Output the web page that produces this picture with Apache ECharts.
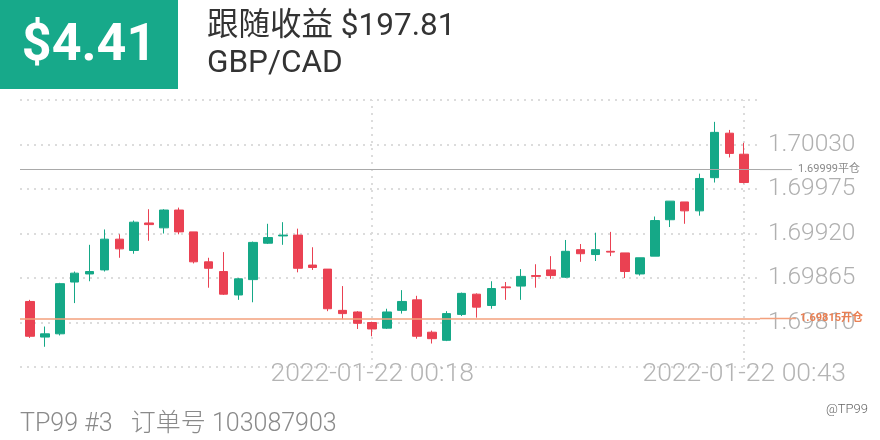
<!DOCTYPE html>
<html>
<head>
<meta charset="utf-8">
<style>html,body{margin:0;padding:0;background:#fff;}#c{width:880px;height:440px;}</style>
<script src="https://cdn.jsdelivr.net/npm/echarts@6/dist/echarts.min.js"></script>
</head>
<body>
<div id="c"></div>
<script>
var categories = ['2022-01-21 23:55','2022-01-21 23:56','2022-01-21 23:57','2022-01-21 23:58','2022-01-21 23:59',
  '2022-01-22 00:00','2022-01-22 00:01','2022-01-22 00:02','2022-01-22 00:03','2022-01-22 00:04','2022-01-22 00:05',
  '2022-01-22 00:06','2022-01-22 00:07','2022-01-22 00:08','2022-01-22 00:09','2022-01-22 00:10','2022-01-22 00:11',
  '2022-01-22 00:12','2022-01-22 00:13','2022-01-22 00:14','2022-01-22 00:15','2022-01-22 00:16','2022-01-22 00:17',
  '2022-01-22 00:18','2022-01-22 00:19','2022-01-22 00:20','2022-01-22 00:21','2022-01-22 00:22','2022-01-22 00:23',
  '2022-01-22 00:24','2022-01-22 00:25','2022-01-22 00:26','2022-01-22 00:27','2022-01-22 00:28','2022-01-22 00:29',
  '2022-01-22 00:30','2022-01-22 00:31','2022-01-22 00:32','2022-01-22 00:33','2022-01-22 00:34','2022-01-22 00:35',
  '2022-01-22 00:36','2022-01-22 00:37','2022-01-22 00:38','2022-01-22 00:39','2022-01-22 00:40','2022-01-22 00:41',
  '2022-01-22 00:42','2022-01-22 00:43'];
var opens = [1.69836,1.69792,1.69796,1.69860,1.69870,1.69875,1.69913,1.69899,1.69933,1.69927,1.69949,1.69922,1.69885,
  1.69873,1.69844,1.69863,1.69908,1.69917,1.69918,1.69881,1.69876,1.69825,1.69823,1.69810,1.69803,1.69825,1.69838,
  1.69798,1.69788,1.69820,1.69845,1.69831,1.69854,1.69855,1.69868,1.69875,1.69866,1.69900,1.69894,1.69898,1.69896,
  1.69870,1.69892,1.69937,1.69959,1.69948,1.69989,1.70044,1.70018];
var closes = [1.69793,1.69796,1.69858,1.69871,1.69873,1.69913,1.69901,1.69934,1.69931,1.69949,1.69922,1.69885,1.69877,
  1.69845,1.69864,1.69909,1.69915,1.69918,1.69877,1.69878,1.69827,1.69821,1.69809,1.69802,1.69823,1.69836,1.69793,
  1.69790,1.69821,1.69846,1.69829,1.69852,1.69853,1.69867,1.69867,1.69868,1.69898,1.69895,1.69900,1.69897,1.69873,
  1.69890,1.69936,1.69960,1.69948,1.69988,1.70045,1.70019,1.69983];
var lows = [1.69791,1.69780,1.69794,1.69834,1.69861,1.69873,1.69890,1.69895,1.69911,1.69920,1.69919,1.69883,1.69853,
  1.69844,1.69838,1.69835,1.69907,1.69906,1.69872,1.69875,1.69824,1.69814,1.69802,1.69793,1.69802,1.69821,1.69790,
  1.69784,1.69787,1.69818,1.69816,1.69827,1.69838,1.69838,1.69853,1.69864,1.69865,1.69885,1.69886,1.69892,1.69865,
  1.69868,1.69892,1.69928,1.69932,1.69942,1.69983,1.70014,1.69982];
var highs = [1.69838,1.69805,1.69859,1.69873,1.69906,1.69925,1.69919,1.69936,1.69950,1.69950,1.69952,1.69922,1.69890,
  1.69897,1.69865,1.69910,1.69932,1.69934,1.69926,1.69903,1.69876,1.69855,1.69824,1.69811,1.69827,1.69850,1.69843,
  1.69800,1.69824,1.69847,1.69846,1.69861,1.69860,1.69876,1.69882,1.69892,1.69912,1.69907,1.69921,1.69922,1.69896,
  1.69890,1.69941,1.69960,1.69959,1.69994,1.70058,1.70048,1.70032];
var labelIndices = [23, 48];
var yTicks = {min: 1.69755, max: 1.70085, step: 0.00055};
var openPrice = 1.69815, closePrice = 1.69999;

var FONT = 'Roboto, "Noto Sans CJK SC", sans-serif';
var UP = '#15a887', DOWN = '#ea4152';

var candleData = categories.map(function (c, i) {
  return [i, opens[i], closes[i], lows[i], highs[i]];
});

var chart = echarts.init(document.getElementById('c'), null, {renderer: 'canvas'});
chart.setOption({
  backgroundColor: '#fff',
  animation: false,
  grid: {left: 20, right: 120, top: 100, bottom: 73, containLabel: false, outerBoundsMode: 'none'},
  xAxis: {
    type: 'value',
    min: -0.672, max: 49.06,
    axisLine: {show: false}, axisTick: {show: false}, splitLine: {show: false},
    axisLabel: {
      customValues: labelIndices,
      formatter: function (v) { return categories[Math.round(v)] || ''; },
      color: '#b4b4b4', fontSize: 26.5, fontWeight: 300, fontFamily: FONT, margin: -6
    }
  },
  yAxis: {
    type: 'value', position: 'right', scale: true,
    min: yTicks.min, max: yTicks.max, interval: yTicks.step,
    axisLine: {show: false}, axisTick: {show: false},
    splitLine: {show: true, lineStyle: {color: '#dcdcdc', type: [2, 5], width: 2}},
    axisLabel: {
      showMinLabel: false, showMaxLabel: false,
      formatter: function (v) { return v.toFixed(5); },
      color: '#b0b0b0', fontSize: 24.5, fontWeight: 300, fontFamily: FONT, margin: 8,
      padding: [0, 0, 6, 0]
    }
  },
  graphic: [
    {type: 'rect', left: 0, top: 0, shape: {width: 178, height: 89}, style: {fill: '#17a98a'}},
    {type: 'text', x: 89, y: 47, style: {text: '$4.41', fill: '#fff', font: 'bold 52px ' + FONT, align: 'center', verticalAlign: 'middle'}},
    {type: 'text', x: 207, y: 27, style: {text: '跟随收益 $197.81', fill: '#333', font: '31.5px ' + FONT, align: 'left', verticalAlign: 'middle'}},
    {type: 'text', x: 207, y: 64, style: {text: 'GBP/CAD', fill: '#333', font: '31.5px ' + FONT, align: 'left', verticalAlign: 'middle'}},
    {type: 'text', x: 20, y: 425, style: {text: 'TP99 #3   订单号 103087903', fill: '#8a8a8a', font: '300 25px ' + FONT, align: 'left', verticalAlign: 'middle'}},
    {type: 'text', x: 868, y: 410, style: {text: '@TP99', fill: '#666', font: '300 13px ' + FONT, align: 'right', verticalAlign: 'middle'}}
  ],
  series: [
    {
      type: 'line', data: [], silent: true,
      markLine: {
        silent: true, symbol: 'none', z: 1, precision: 5,
        label: {show: false},
        lineStyle: {color: '#dcdcdc', type: [2, 5], width: 2},
        data: labelIndices.map(function (i) { return {xAxis: i}; })
      }
    },
    {
      type: 'candlestick',
      data: candleData,
      barWidth: 9,
      z: 3,
      itemStyle: {color: UP, color0: DOWN, borderColor: UP, borderColor0: DOWN, borderWidth: 1}
    },
    {
      type: 'line', data: [], silent: true, z: 5,
      markLine: {
        silent: true, symbol: 'none', z: 5, precision: 5,
        data: [
          {yAxis: closePrice, lineStyle: {color: '#a9a9a9', type: 'solid', width: 1},
            label: {show: true, position: 'end', distance: 0,
              formatter: '{l|}{t|' + closePrice.toFixed(5) + '平仓}',
              rich: {l: {width: 32, height: 1, backgroundColor: '#a9a9a9', verticalAlign: 'middle'},
                     t: {color: '#8a8a8a', fontSize: 11, fontFamily: FONT, padding: [0, 0, 0, 6], verticalAlign: 'middle'}}}},
          {yAxis: openPrice, lineStyle: {color: '#f3a07c', type: 'solid', width: 1.5},
            label: {show: true, position: 'end', distance: 0,
              formatter: '{l|}{t|' + openPrice.toFixed(5) + '开仓}',
              rich: {l: {width: 36, height: 1.5, backgroundColor: '#f3a07c', verticalAlign: 'middle'},
                     t: {color: '#ea7f52', fontSize: 11, fontWeight: 'bold', fontFamily: FONT, padding: [0, 0, 0, 4], verticalAlign: 'middle'}}}}
        ]
      }
    }
  ]
});
</script>
</body>
</html>
